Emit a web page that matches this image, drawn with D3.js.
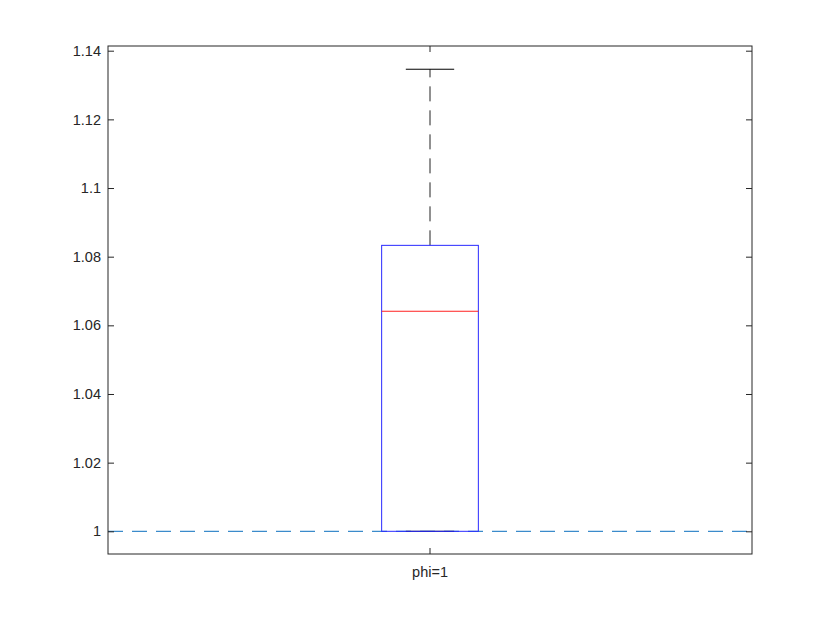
<!DOCTYPE html>
<html>
<head>
<meta charset="utf-8">
<script src="https://cdn.jsdelivr.net/npm/d3@7"></script>
<style>
  body { margin: 0; background: #fff; overflow: hidden; }
  text { font-family: "Liberation Sans", Arial, sans-serif; }
</style>
</head>
<body>
<script>
// box plot summary per group
const categories = ["phi=1"];
const lowerWhisker = [1.0];
const q1 = [1.0];
const median = [1.0641];
const q3 = [1.0833];
const upperWhisker = [1.1346];
const refLine = 1.0;   // dashed reference line
const yTicks = [1, 1.02, 1.04, 1.06, 1.08, 1.1, 1.12, 1.14];

const width = 830, height = 623;
const margin = {top: 46, right: 78, bottom: 69, left: 108};
const innerW = width - margin.left - margin.right;
const innerH = height - margin.top - margin.bottom;

const svg = d3.select("body").append("svg")
    .attr("width", width)
    .attr("height", height);

const g = svg.append("g")
    .attr("transform", `translate(${margin.left},${margin.top})`);

const y = d3.scaleLinear()
    .domain([0.99339, 1.14137])
    .range([innerH, 0]);

const x = d3.scaleBand()
    .domain(categories)
    .range([0, innerW])
    .paddingInner(0)
    .paddingOuter(0);

const axisColor = "#262626";
const fmt = v => String(+v.toFixed(2));

// reference line (behind box)
g.append("line")
    .attr("x1", 0).attr("x2", innerW)
    .attr("y1", y(refLine)).attr("y2", y(refLine))
    .attr("stroke", "#3b8bcb")
    .attr("stroke-width", 1.2)
    .attr("stroke-dasharray", "15,9");

// boxes
const boxW = 96.7;
categories.forEach((c, i) => {
    const cx = x(c) + x.bandwidth() / 2;
    // whiskers
    g.append("line")
        .attr("x1", cx).attr("x2", cx)
        .attr("y1", y(q3[i])).attr("y2", y(upperWhisker[i]))
        .attr("stroke", "#222")
        .attr("stroke-width", 1)
        .attr("stroke-dasharray", "15,9");
    g.append("line")
        .attr("x1", cx).attr("x2", cx)
        .attr("y1", y(q1[i])).attr("y2", y(lowerWhisker[i]))
        .attr("stroke", "#222")
        .attr("stroke-dasharray", "15,9");
    [upperWhisker[i], lowerWhisker[i]].forEach(v => {
        g.append("line")
            .attr("x1", cx - boxW / 4).attr("x2", cx + boxW / 4)
            .attr("y1", y(v)).attr("y2", y(v))
            .attr("stroke", "#000")
            .attr("stroke-width", 1);
    });
    // box
    g.append("rect")
        .attr("x", cx - boxW / 2)
        .attr("y", y(q3[i]))
        .attr("width", boxW)
        .attr("height", y(q1[i]) - y(q3[i]))
        .attr("fill", "none")
        .attr("stroke", "#2a2aff")
        .attr("stroke-width", 1);
    // median
    g.append("line")
        .attr("x1", cx - boxW / 2).attr("x2", cx + boxW / 2)
        .attr("y1", y(median[i])).attr("y2", y(median[i]))
        .attr("stroke", "#ff2020")
        .attr("stroke-width", 1);
});

// axes box
g.append("rect")
    .attr("width", innerW).attr("height", innerH)
    .attr("fill", "none")
    .attr("stroke", axisColor)
    .attr("stroke-width", 1);

// y axis left
const yAxisL = g.append("g")
    .call(d3.axisLeft(y).tickValues(yTicks).tickFormat(fmt).tickSizeInner(-6).tickSizeOuter(0).tickPadding(7));
// y axis right
const yAxisR = g.append("g")
    .attr("transform", `translate(${innerW},0)`)
    .call(d3.axisRight(y).tickValues(yTicks).tickFormat("").tickSizeInner(-6).tickSizeOuter(0));
// x axis bottom / top
const xAxisB = g.append("g")
    .attr("transform", `translate(0,${innerH})`)
    .call(d3.axisBottom(x).tickSizeInner(-6).tickSizeOuter(0).tickPadding(13));
const xAxisT = g.append("g")
    .call(d3.axisTop(x).tickFormat("").tickSizeInner(-6).tickSizeOuter(0));

[yAxisL, yAxisR, xAxisB, xAxisT].forEach(a => {
    a.select(".domain").remove();
    a.selectAll(".tick line").attr("stroke", axisColor);
    a.selectAll(".tick text")
        .attr("fill", axisColor)
        .style("font-size", "14.5px")
        .style("font-family", "'Liberation Sans', Arial, sans-serif");
});
</script>
</body>
</html>
